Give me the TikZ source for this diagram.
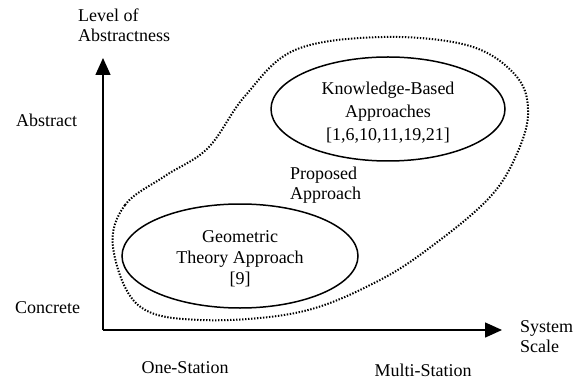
\documentclass[tikz,border=0pt]{standalone}
\usepackage{fontspec}
\setmainfont{Liberation Serif}
\usetikzlibrary{arrows.meta}
\begin{document}
\begin{tikzpicture}[x=1pt,y=-1pt,
  lbl/.style={inner sep=0pt,font=\fontsize{18}{20}\selectfont},
  ell/.style={draw,line width=1.5pt},
  axis/.style={line width=1.5pt,-{Triangle[length=17pt,width=15pt]}},
  blob/.style={line width=2pt,dash pattern=on 1.4pt off 1.6pt}]
\useasboundingbox (0,0) rectangle (577,379);
\coordinate (O) at (103,330);
\coordinate (ytip) at (103,58);
\coordinate (xtip) at (502,330);
\draw[axis] (O) -- (ytip);
\draw[axis] (O) -- (xtip);
\draw[ell] (388,109) ellipse [x radius=117, y radius=52];
\draw[ell] (240,256) ellipse [x radius=118, y radius=52];
\draw[blob] plot[smooth cycle, tension=0.6] coordinates {
 (113,247) (125,205) (165,176) (208,148) (245,96) (295,50) (383,37)
 (470,46) (517,77) (528,115) (515,158) (490,197) (440,240)
 (380,280) (300,312) (200,320) (138,305)};
\node[lbl,anchor=west,align=left] (yl) at (78,25) {Level of\\Abstractness};
\node[lbl,anchor=west] (abs) at (16,120) {Abstract};
\node[lbl,anchor=west] (con) at (15,308) {Concrete};
\node[lbl] (one) at (185,368) {One-Station};
\node[lbl] (multi) at (423,370) {Multi-Station};
\node[lbl,anchor=west,align=left] (xl) at (520,337) {System\\Scale};
\node[lbl,anchor=west,align=left] (prop) at (290,185) {Proposed\\Approach};
\node[lbl,align=center,font=\fontsize{18}{23}\selectfont] (kb) at (388,113) {Knowledge-Based\\Approaches\\{}[1,6,10,11,19,21]};
\node[lbl,align=center,font=\fontsize{18}{21}\selectfont] (geo) at (240,259) {Geometric\\Theory Approach\\{}[9]};
\end{tikzpicture}
\end{document}
